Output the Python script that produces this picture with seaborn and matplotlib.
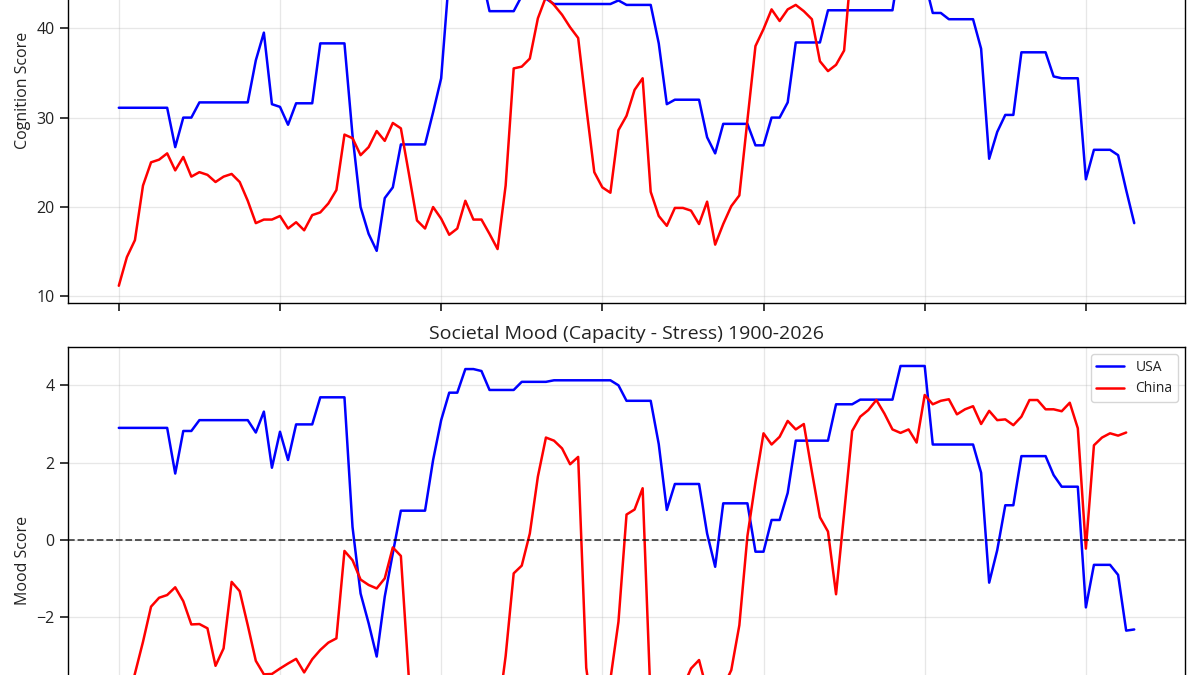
import seaborn as sns
import matplotlib.pyplot as plt

# --- datos ---
years_usa = list(range(1900, 2027))
years_china = list(range(1900, 2026))

usa_cognition = [
    31.1, 31.1, 31.1, 31.1, 31.1, 31.1, 31.1, 26.7, 30.0, 30.0,   # 1900s
    31.7, 31.7, 31.7, 31.7, 31.7, 31.7, 31.7, 36.4, 39.5, 31.5,   # 1910s
    31.2, 29.2, 31.6, 31.6, 31.6, 38.3, 38.3, 38.3, 38.3, 28.0,   # 1920s
    20.0, 17.0, 15.1, 21.0, 22.2, 27.0, 27.0, 27.0, 27.0, 30.6,   # 1930s
    34.4, 46.0, 47.0, 48.0, 47.5, 46.0, 41.9, 41.9, 41.9, 41.9,   # 1940s
    43.6, 44.5, 44.5, 43.3, 42.7, 42.7, 42.7, 42.7, 42.7, 42.7,   # 1950s
    42.7, 42.7, 43.1, 42.6, 42.6, 42.6, 42.6, 38.3, 31.5, 32.0,   # 1960s
    32.0, 32.0, 32.0, 27.8, 26.0, 29.3, 29.3, 29.3, 29.3, 26.9,   # 1970s
    26.9, 30.0, 30.0, 31.7, 38.4, 38.4, 38.4, 38.4, 42.0, 42.0,   # 1980s
    42.0, 42.0, 42.0, 42.0, 42.0, 42.0, 42.0, 47.6, 48.5, 48.0,   # 1990s
    45.3, 41.7, 41.7, 41.0, 41.0, 41.0, 41.0, 37.7, 25.4, 28.4,   # 2000s
    30.3, 30.3, 37.3, 37.3, 37.3, 37.3, 34.6, 34.4, 34.4, 34.4,   # 2010s
    23.1, 26.4, 26.4, 26.4, 25.8, 21.9, 18.2,                     # 2020s
]

china_cognition = [
    11.2, 14.4, 16.3, 22.4, 25.0, 25.3, 26.0, 24.1, 25.6, 23.4,
    23.9, 23.6, 22.8, 23.4, 23.7, 22.8, 20.7, 18.2, 18.6, 18.6,
    19.0, 17.6, 18.3, 17.4, 19.1, 19.4, 20.4, 21.9, 28.1, 27.7,
    25.8, 26.7, 28.5, 27.4, 29.4, 28.8, 23.7, 18.5, 17.6, 20.0,
    18.7, 16.9, 17.6, 20.7, 18.6, 18.6, 17.0, 15.3, 22.4, 35.5,
    35.7, 36.6, 41.1, 43.5, 42.6, 41.5, 40.1, 38.9, 31.2, 23.9,
    22.2, 21.6, 28.6, 30.2, 33.1, 34.4, 21.7, 19.0, 17.9, 19.9,
    19.9, 19.6, 18.1, 20.6, 15.8, 18.1, 20.1, 21.3, 29.7, 38.0,
    39.9, 42.1, 40.8, 42.1, 42.6, 41.9, 41.0, 36.3, 35.2, 35.9,
    37.5, 48.0, 49.5, 50.5, 51.0, 51.5, 52.0, 52.5, 52.8, 53.0,
    53.5, 54.0, 54.2, 54.5, 54.7, 54.5, 54.0, 53.5, 54.0, 54.3,
    54.6, 54.7, 54.2, 53.8, 54.0, 54.4, 54.6, 54.1, 53.6, 53.9,
    53.2, 53.5, 53.8, 54.0, 53.7, 54.1,
]

usa_mood = [
    2.90, 2.90, 2.90, 2.90, 2.90, 2.90, 2.90, 1.72, 2.82, 2.82,
    3.10, 3.10, 3.10, 3.10, 3.10, 3.10, 3.10, 2.78, 3.32, 1.87,
    2.80, 2.07, 2.99, 2.99, 2.99, 3.69, 3.69, 3.69, 3.69, 0.34,
    -1.38, -2.15, -3.01, -1.46, -0.34, 0.76, 0.76, 0.76, 0.76, 2.07,
    3.10, 3.81, 3.81, 4.42, 4.42, 4.37, 3.88, 3.88, 3.88, 3.88,
    4.09, 4.09, 4.09, 4.09, 4.13, 4.13, 4.13, 4.13, 4.13, 4.13,
    4.13, 4.13, 4.00, 3.60, 3.60, 3.60, 3.60, 2.48, 0.78, 1.45,
    1.45, 1.45, 1.45, 0.17, -0.69, 0.95, 0.95, 0.95, 0.95, -0.30,
    -0.30, 0.52, 0.52, 1.22, 2.57, 2.57, 2.57, 2.57, 2.57, 3.51,
    3.51, 3.51, 3.63, 3.63, 3.63, 3.63, 3.63, 4.50, 4.50, 4.50,
    4.50, 2.47, 2.47, 2.47, 2.47, 2.47, 2.47, 1.74, -1.10, -0.26,
    0.90, 0.90, 2.17, 2.17, 2.17, 2.17, 1.68, 1.38, 1.38, 1.38,
    -1.74, -0.64, -0.64, -0.64, -0.90, -2.34, -2.31,
]

china_mood = [
    -5.00, -4.30, -3.45, -2.63, -1.72, -1.49, -1.42, -1.22, -1.58, -2.18,
    -2.17, -2.28, -3.25, -2.80, -1.08, -1.32, -2.20, -3.12, -3.47, -3.46,
    -3.32, -3.19, -3.07, -3.42, -3.08, -2.84, -2.65, -2.54, -0.28, -0.52,
    -1.02, -1.16, -1.25, -0.99, -0.19, -0.41, -3.60, -4.60, -5.20, -5.50,
    -5.30, -5.00, -4.80, -5.10, -4.90, -4.40, -4.20, -4.60, -3.00, -0.86,
    -0.66, 0.17, 1.64, 2.65, 2.57, 2.37, 1.96, 2.15, -3.30, -4.80,
    -4.50, -3.60, -2.11, 0.66, 0.79, 1.34, -4.20, -5.20, -5.00, -4.60,
    -3.80, -3.32, -3.10, -3.90, -4.30, -3.80, -3.36, -2.20, 0.10, 1.50,
    2.76, 2.47, 2.67, 3.08, 2.86, 3.00, 1.77, 0.59, 0.22, -1.40,
    0.69, 2.82, 3.19, 3.36, 3.62, 3.27, 2.86, 2.77, 2.86, 2.52,
    3.75, 3.51, 3.60, 3.64, 3.25, 3.38, 3.46, 3.00, 3.34, 3.10,
    3.12, 2.97, 3.19, 3.62, 3.62, 3.38, 3.38, 3.33, 3.55, 2.89,
    -0.22, 2.45, 2.65, 2.76, 2.70, 2.78,
]

COLOR_USA = "#0000ff"
COLOR_CHINA = "#ff0000"
YEAR_TICKS = [1900, 1920, 1940, 1960, 1980, 2000, 2020]

sns.set_theme(style="ticks", rc={
    "axes.edgecolor": "black",
    "axes.linewidth": 1.0,
    "xtick.color": "#222222",
    "ytick.color": "#222222",
    "text.color": "#222222",
    "axes.labelcolor": "#222222",
})
plt.rcParams["font.family"] = ["Open Sans", "DejaVu Sans"]

fig = plt.figure(figsize=(12, 6.75), dpi=100)
# el recorte deja fuera la parte alta del panel superior y la baja del inferior
ax1 = fig.add_axes([0.0567, 0.5507, 0.9308, 0.6315])
ax2 = fig.add_axes([0.0567, -0.1452, 0.9308, 0.6311], sharex=ax1)

# Panel superior: cognición
sns.lineplot(x=years_usa, y=usa_cognition, color=COLOR_USA, lw=1.8, ax=ax1)
sns.lineplot(x=years_china, y=china_cognition, color=COLOR_CHINA, lw=1.8, ax=ax1)
ax1.set_ylim(9.24, 56.9)
ax1.set_yticks([10, 20, 30, 40])
ax1.set_ylabel("Cognition Score", fontsize=11.5)
ax1.tick_params(labelbottom=False, labelsize=11.5)
ax1.grid(True, color="#b0b0b0", alpha=0.3, lw=0.9)

# Panel inferior: ánimo social
sns.lineplot(x=years_usa, y=usa_mood, color=COLOR_USA, lw=1.8, label="USA", ax=ax2)
sns.lineplot(x=years_china, y=china_mood, color=COLOR_CHINA, lw=1.8, label="China", ax=ax2)
ax2.axhline(0, color="black", ls="--", lw=1.3, alpha=0.7)
ax2.set_ylim(-6.02, 4.99)
ax2.set_yticks([-2, 0, 2, 4])
ax2.set_ylabel("Mood Score", fontsize=11.5)
ax2.set_title("Societal Mood (Capacity - Stress) 1900-2026", fontsize=14)
ax2.tick_params(labelsize=11.5, labelbottom=False)  # etiquetas del eje x quedan fuera del recorte
ax2.grid(True, color="#b0b0b0", alpha=0.3, lw=0.9)
ax2.legend(loc="upper right", fontsize=10, frameon=True, framealpha=0.8,
           edgecolor="#cccccc", fancybox=True)

for ax in (ax1, ax2):
    ax.set_xlabel("")
    ax.set_xticks(YEAR_TICKS)

fig.align_ylabels([ax1, ax2])
fig.savefig("out.png", dpi=100)
